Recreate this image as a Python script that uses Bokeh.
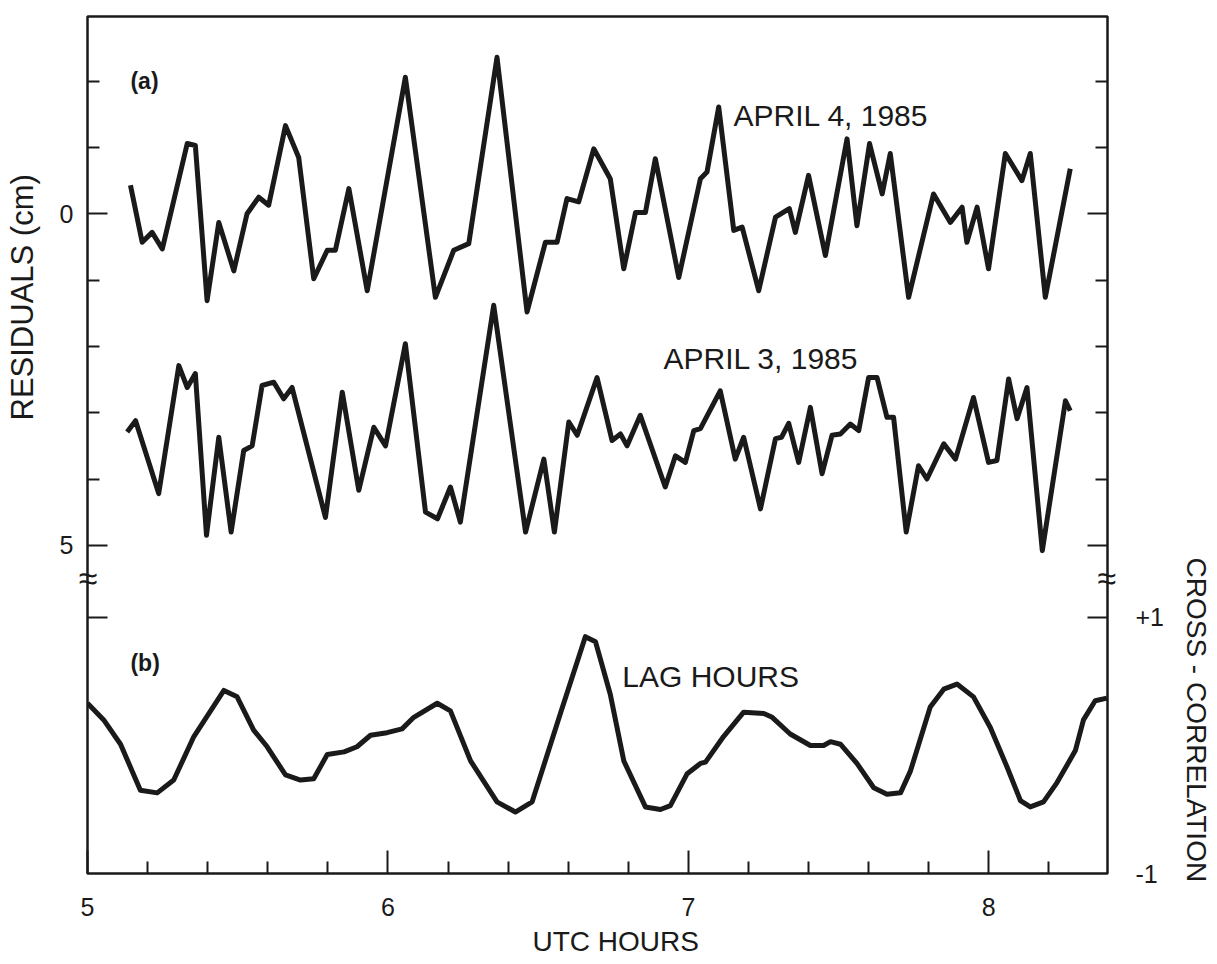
from bokeh.plotting import figure
from bokeh.models import Range1d, LinearAxis, FixedTicker, Label, Title
from bokeh.embed import file_html
from bokeh.resources import INLINE

# ---------------- data ----------------
# (a) residuals, cm (plotted downward), UTC hours
apr4_hours = [5.143, 5.182, 5.215, 5.249, 5.332, 5.359, 5.398, 5.437, 5.487, 5.531,
              5.570, 5.603, 5.659, 5.703, 5.753, 5.798, 5.825, 5.870, 5.931, 6.058,
              6.158, 6.219, 6.269, 6.363, 6.463, 6.524, 6.563, 6.596, 6.635, 6.685,
              6.740, 6.785, 6.824, 6.857, 6.890, 6.968, 7.040, 7.062, 7.101, 7.151,
              7.179, 7.234, 7.290, 7.336, 7.356, 7.400, 7.456, 7.528, 7.561, 7.603,
              7.645, 7.672, 7.733, 7.816, 7.872, 7.911, 7.927, 7.961, 7.999, 8.055,
              8.110, 8.138, 8.188, 8.271]
apr4_resid = [-0.43, 0.43, 0.28, 0.53, -1.06, -1.03, 1.31, 0.13, 0.86, 0.00,
              -0.25, -0.13, -1.33, -0.85, 0.98, 0.55, 0.55, -0.38, 1.16, -2.06,
              1.26, 0.55, 0.45, -2.36, 1.48, 0.43, 0.43, -0.23, -0.18, -0.98,
              -0.53, 0.83, -0.02, -0.02, -0.83, 0.96, -0.53, -0.63, -1.61, 0.25,
              0.20, 1.16, 0.05, -0.08, 0.28, -0.58, 0.63, -1.13, 0.18, -1.06,
              -0.30, -0.91, 1.26, -0.30, 0.13, -0.10, 0.43, -0.10, 0.83, -0.91,
              -0.50, -0.91, 1.26, -0.68]

apr3_hours = [5.132, 5.160, 5.237, 5.304, 5.332, 5.359, 5.396, 5.437, 5.478, 5.520,
              5.548, 5.581, 5.620, 5.653, 5.681, 5.792, 5.848, 5.903, 5.953, 5.992,
              6.058, 6.125, 6.165, 6.208, 6.241, 6.352, 6.458, 6.519, 6.554, 6.602,
              6.630, 6.696, 6.746, 6.774, 6.796, 6.840, 6.923, 6.957, 6.990, 7.018,
              7.040, 7.106, 7.156, 7.184, 7.240, 7.290, 7.310, 7.334, 7.367, 7.406,
              7.445, 7.478, 7.506, 7.539, 7.567, 7.600, 7.628, 7.661, 7.683, 7.725,
              7.766, 7.794, 7.850, 7.889, 7.949, 7.999, 8.027, 8.066, 8.094, 8.127,
              8.178, 8.255, 8.271]
apr3_resid = [3.29, 3.12, 4.22, 2.29, 2.62, 2.41, 4.85, 3.37, 4.80, 3.57,
              3.50, 2.59, 2.54, 2.79, 2.62, 4.58, 2.69, 4.17, 3.22, 3.50,
              1.96, 4.50, 4.60, 4.12, 4.65, 1.38, 4.80, 3.70, 4.80, 3.14,
              3.34, 2.47, 3.42, 3.32, 3.50, 3.04, 4.12, 3.65, 3.75, 3.27,
              3.24, 2.67, 3.70, 3.37, 4.45, 3.39, 3.37, 3.16, 3.75, 2.92,
              3.92, 3.34, 3.32, 3.17, 3.27, 2.47, 2.47, 3.07, 3.07, 4.80,
              3.80, 4.00, 3.47, 3.70, 2.77, 3.75, 3.72, 2.49, 3.09, 2.62,
              5.08, 2.82, 2.97]

# (b) cross-correlation vs lag hours
lag_hours = [5.000, 5.054, 5.110, 5.176, 5.232, 5.287, 5.354, 5.454, 5.498, 5.553,
             5.598, 5.659, 5.709, 5.753, 5.798, 5.854, 5.897, 5.942, 5.997, 6.047,
             6.086, 6.164, 6.208, 6.275, 6.363, 6.424, 6.480, 6.574, 6.657, 6.691,
             6.740, 6.785, 6.857, 6.907, 6.940, 6.996, 7.040, 7.057, 7.117, 7.184,
             7.251, 7.279, 7.339, 7.406, 7.450, 7.473, 7.506, 7.561, 7.617, 7.661,
             7.706, 7.739, 7.805, 7.850, 7.894, 7.949, 8.005, 8.061, 8.105, 8.138,
             8.182, 8.227, 8.288, 8.315, 8.354, 8.393]
cross_corr = [0.33, 0.20, 0.01, -0.35, -0.37, -0.27, 0.07, 0.43, 0.38, 0.12,
              -0.01, -0.23, -0.27, -0.26, -0.07, -0.05, -0.01, 0.08, 0.10, 0.13,
              0.22, 0.33, 0.27, -0.12, -0.44, -0.52, -0.44, 0.25, 0.85, 0.81,
              0.40, -0.12, -0.48, -0.50, -0.47, -0.22, -0.14, -0.13, 0.07, 0.26,
              0.25, 0.22, 0.09, 0.00, 0.00, 0.03, 0.01, -0.14, -0.33, -0.38,
              -0.37, -0.20, 0.30, 0.44, 0.48, 0.38, 0.14, -0.17, -0.43, -0.48,
              -0.44, -0.29, -0.04, 0.20, 0.35, 0.37]

# ticks
resid_major = [0, 5]
resid_minor = [-2, -1, 1, 2, 3, 4]
resid_break = 5.5
hour_major = [5, 6, 7, 8]
hour_minor = [5.2, 5.4, 5.6, 5.8, 6.2, 6.4, 6.6, 6.8, 7.2, 7.4, 7.6, 7.8, 8.2]
cc_ticks = [-1, 1]

# ---------------- style ----------------
FONT = "Liberation Sans"
INK = "#1a1a1a"
X0, X1 = 5.0, 8.395

p = figure(width=1217, height=964,
           x_range=Range1d(X0, X1), y_range=Range1d(9.950, -2.976),
           output_backend="svg", toolbar_location=None, title=None,
           x_axis_location=None, y_axis_location=None,
           min_border_left=87, min_border_right=110,
           min_border_top=16, min_border_bottom=91,
           background_fill_color="white", border_fill_color="white")
p.extra_y_ranges = {"cc": Range1d(-1.0, 5.695)}
p.grid.visible = False
p.outline_line_color = INK
p.outline_line_width = 2.5


def axis(ticks, minor=(), labels=None, tick_len=20, minor_len=12, standoff=12,
         font_size="25px", **kw):
    ax = LinearAxis(ticker=FixedTicker(ticks=list(ticks), minor_ticks=list(minor)), **kw)
    ax.axis_line_color = None
    ax.major_tick_line_color = INK
    ax.major_tick_line_width = 2
    ax.minor_tick_line_color = INK
    ax.minor_tick_line_width = 2
    ax.major_tick_out = 0
    ax.minor_tick_out = 0
    ax.major_tick_in = tick_len
    ax.minor_tick_in = minor_len
    ax.major_label_text_font = FONT
    ax.major_label_text_font_size = font_size
    ax.major_label_text_color = INK
    ax.major_label_standoff = standoff
    if labels is not None:
        ax.major_label_overrides = labels
    return ax


def spacer(size, at, **kw):
    # an invisible (white) outward tick that only reserves room in the margin
    ax = LinearAxis(ticker=FixedTicker(ticks=[at]), major_label_overrides={at: ""}, **kw)
    ax.axis_line_color = None
    ax.major_tick_out = size
    ax.major_tick_in = 0
    ax.major_tick_line_color = "white"
    ax.minor_tick_out = 0
    ax.minor_tick_in = 0
    ax.major_label_standoff = 0
    return ax


BREAK = {resid_break: "\u2248"}

# ----- left side (inner to outer) -----
p.add_layout(axis([resid_break], labels=BREAK, tick_len=0, standoff=-10, font_size="34px"), "left")
p.add_layout(axis(resid_major, tick_len=0, standoff=2), "left")
p.add_layout(spacer(16, 0), "left")
p.add_layout(Title(text="RESIDUALS (cm)", align="left", offset=453, vertical_align="middle",
                   standoff=0, text_font=FONT, text_font_size="31px",
                   text_font_style="normal", text_color=INK), "left")
# tick marks drawn on the frame edge
p.add_layout(axis(resid_major, resid_minor, labels={0: "", 5: ""}, fixed_location=X0), "left")
p.add_layout(axis([1], labels={1: ""}, y_range_name="cc", fixed_location=X0), "left")

# ----- right side (inner to outer) -----
p.add_layout(axis([resid_break], labels=BREAK, tick_len=0, standoff=-10, font_size="34px"), "right")
p.add_layout(axis(cc_ticks, labels={1: "+1", -1: "-1"}, tick_len=0, standoff=16,
                  y_range_name="cc"), "right")
p.add_layout(spacer(12, 0), "right")
p.add_layout(Title(text="CROSS - CORRELATION", align="left", offset=541, vertical_align="middle",
                   standoff=0, text_font=FONT, text_font_size="28px",
                   text_font_style="normal", text_color=INK), "right")
p.add_layout(axis(resid_major, resid_minor, labels={0: "", 5: ""}, fixed_location=X1), "right")
p.add_layout(axis([1], labels={1: ""}, y_range_name="cc", fixed_location=X1), "right")

# ----- bottom -----
p.add_layout(axis(hour_major, hour_minor, tick_len=23, standoff=24), "below")
p.add_layout(Title(text="UTC HOURS", align="left", offset=445, vertical_align="middle",
                   standoff=13, text_font=FONT, text_font_size="28px",
                   text_font_style="normal", text_color=INK), "below")

# ----- curves -----
p.line(apr4_hours, apr4_resid, line_color=INK, line_width=5, line_join="round")
p.line(apr3_hours, apr3_resid, line_color=INK, line_width=5, line_join="round")
p.line(lag_hours, cross_corr, y_range_name="cc", line_color=INK, line_width=5,
       line_join="round")

# ----- annotations -----
p.add_layout(Label(x=5.143, y=-2.0, text="(a)", text_font=FONT, text_font_size="23px",
                   text_font_style="bold", text_color=INK, text_baseline="middle"))
p.add_layout(Label(x=7.150, y=-1.48, text="APRIL 4, 1985", text_font=FONT,
                   text_font_size="30px", text_color=INK, text_baseline="middle"))
p.add_layout(Label(x=6.917, y=2.18, text="APRIL 3, 1985", text_font=FONT,
                   text_font_size="30px", text_color=INK, text_baseline="middle"))
p.add_layout(Label(x=5.143, y=0.648, y_range_name="cc", text="(b)", text_font=FONT,
                   text_font_size="23px", text_font_style="bold", text_color=INK,
                   text_baseline="middle"))
p.add_layout(Label(x=6.780, y=0.539, y_range_name="cc", text="LAG HOURS", text_font=FONT,
                   text_font_size="30px", text_color=INK, text_baseline="middle"))

open("out.html", "w").write(file_html(p, INLINE))
